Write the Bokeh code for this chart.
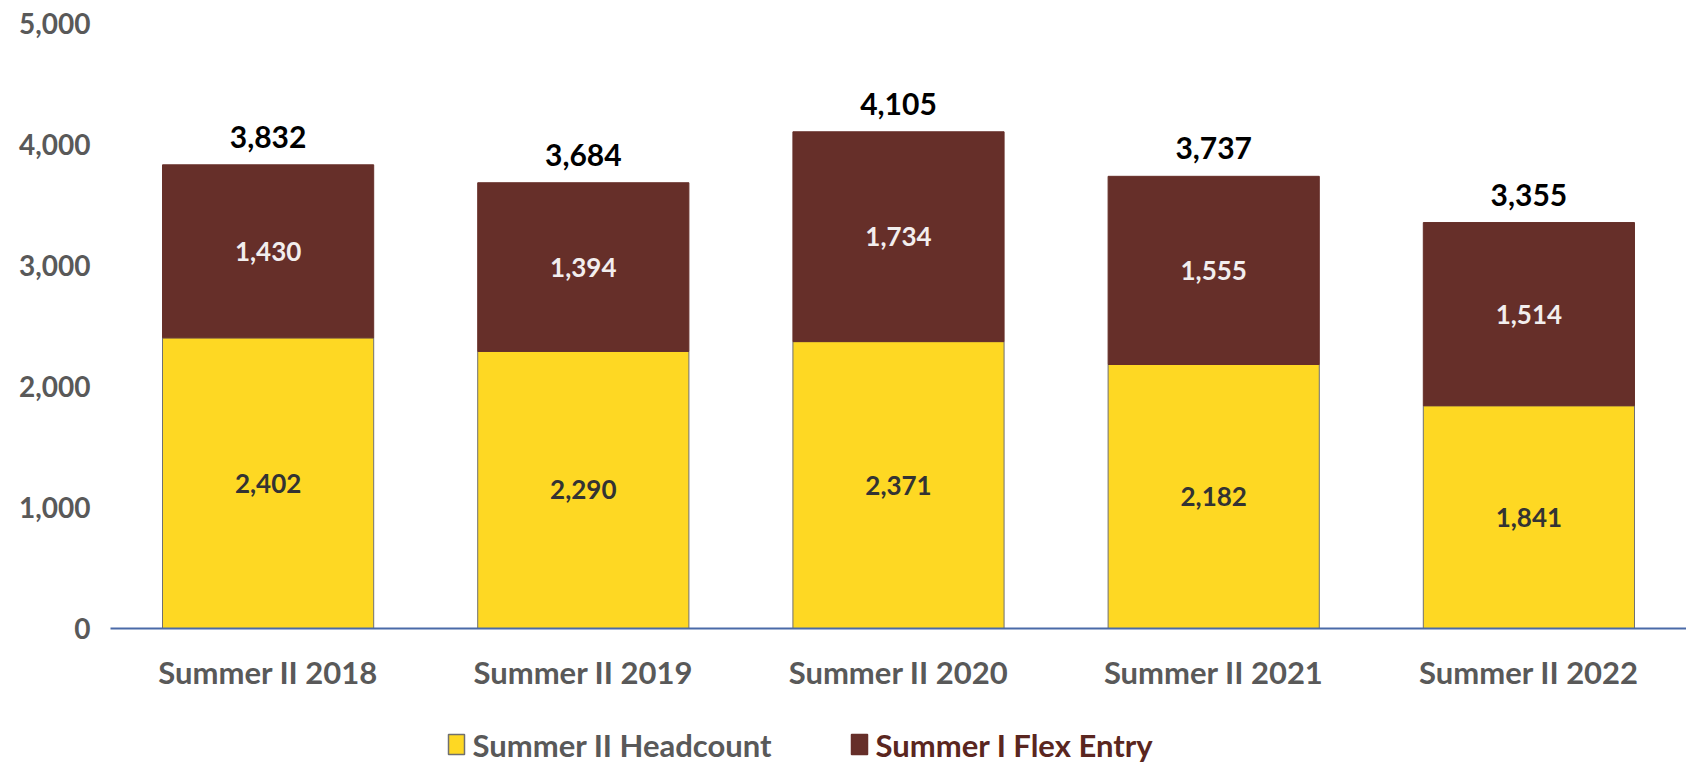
from bokeh.plotting import figure
from bokeh.layouts import column
from bokeh.models import (ColumnDataSource, LabelSet, NumeralTickFormatter,
                          FixedTicker, Range1d, FactorRange)
from bokeh.core.properties import value
from bokeh.embed import file_html
from bokeh.resources import INLINE

terms = ["Summer II 2018", "Summer II 2019", "Summer II 2020", "Summer II 2021", "Summer II 2022"]
headcount = [2402, 2290, 2371, 2182, 1841]
flex_entry = [1430, 1394, 1734, 1555, 1514]
y_ticks = [0, 1000, 2000, 3000, 4000, 5000]
series_names = ["Summer II Headcount", "Summer I Flex Entry"]

YELLOW = "#FED823"
MAROON = "#662F29"
FONT = "Lato"
W = 1686
LEFT = 110

totals = [h + f for h, f in zip(headcount, flex_entry)]
src = ColumnDataSource(dict(
    term=terms,
    headcount=headcount,
    flex=flex_entry,
    total=totals,
    head_mid=[h / 2 for h in headcount],
    flex_mid=[h + f / 2 for h, f in zip(headcount, flex_entry)],
    head_txt=[f"{v:,}" for v in headcount],
    flex_txt=[f"{v:,}" for v in flex_entry],
    total_txt=[f"{v:,}" for v in totals],
))

p = figure(x_range=FactorRange(*terms, range_padding=0), y_range=Range1d(0, 5000),
           width=W, height=712, output_backend="svg", toolbar_location=None,
           min_border_left=LEFT, min_border_right=0, min_border_top=23, min_border_bottom=84)
p.x_range.factor_padding = 0
p.outline_line_color = None
p.xgrid.grid_line_color = None
p.ygrid.grid_line_color = None

p.vbar(x="term", bottom=0, top="headcount", width=0.67, source=src,
       fill_color=YELLOW, line_color="#707070", line_width=1)
p.vbar(x="term", bottom="headcount", top="total", width=0.67, source=src,
       fill_color=MAROON, line_color=MAROON, line_width=1)

# axes
p.yaxis.ticker = FixedTicker(ticks=y_ticks)
p.yaxis.formatter = NumeralTickFormatter(format="0,0")
p.yaxis.axis_line_color = None
p.yaxis.major_tick_line_color = None
p.yaxis.minor_tick_line_color = None
p.yaxis.major_tick_out = 0
p.yaxis.major_tick_in = 0
p.yaxis.minor_tick_out = 0
p.yaxis.major_label_standoff = 20
p.yaxis.major_label_text_font = FONT
p.yaxis.major_label_text_font_style = "bold"
p.yaxis.major_label_text_font_size = "28px"
p.yaxis.major_label_text_color = "#595959"

p.xaxis.axis_line_color = "#4a6aa8"
p.xaxis.axis_line_width = 2
p.xaxis.major_tick_line_color = None
p.xaxis.minor_tick_line_color = None
p.xaxis.major_tick_out = 0
p.xaxis.major_tick_in = 0
p.xaxis.major_label_standoff = 24
p.xaxis.major_label_text_font = FONT
p.xaxis.major_label_text_font_style = "bold"
p.xaxis.major_label_text_font_size = "31px"
p.xaxis.major_label_text_color = "#595959"

# data labels
p.add_layout(LabelSet(x="term", y="head_mid", text="head_txt", source=src,
                      text_align="center", text_baseline="middle",
                      text_font=value(FONT), text_font_style="bold", text_font_size="26px",
                      text_color="#333333"))
p.add_layout(LabelSet(x="term", y="flex_mid", text="flex_txt", source=src,
                      text_align="center", text_baseline="middle",
                      text_font=value(FONT), text_font_style="bold", text_font_size="26px",
                      text_color="#f2eeee"))
p.add_layout(LabelSet(x="term", y="total", text="total_txt", source=src,
                      text_align="center", text_baseline="middle", y_offset=28,
                      text_font=value(FONT), text_font_style="bold", text_font_size="30px",
                      text_color="#000000"))

# legend strip (separate figure; its frame is aligned with the main frame)
LH = 50
lg = figure(x_range=Range1d(LEFT, W), y_range=Range1d(0, LH), width=W, height=LH,
            output_backend="svg", toolbar_location=None,
            min_border_left=LEFT, min_border_right=0, min_border_top=0, min_border_bottom=0)
lg.axis.visible = False
lg.grid.grid_line_color = None
lg.outline_line_color = None
lsrc = ColumnDataSource(dict(
    name=series_names,
    sq_x=[456, 859],
    tx=[472, 875],
    fill=[YELLOW, MAROON],
    edge=["#707070", MAROON],
    tcol=["#595959", "#5a2620"],
))
lg.rect(x="sq_x", y=18, width=16, height=20, source=lsrc,
        fill_color="fill", line_color="edge", line_width=1.5)
lg.text(x="tx", y=18, text="name", source=lsrc, text_align="left", text_baseline="middle",
        text_font=value(FONT), text_font_style="bold", text_font_size="31px",
        text_color="tcol")

open("out.html", "w").write(file_html(column(p, lg, spacing=0), INLINE))
